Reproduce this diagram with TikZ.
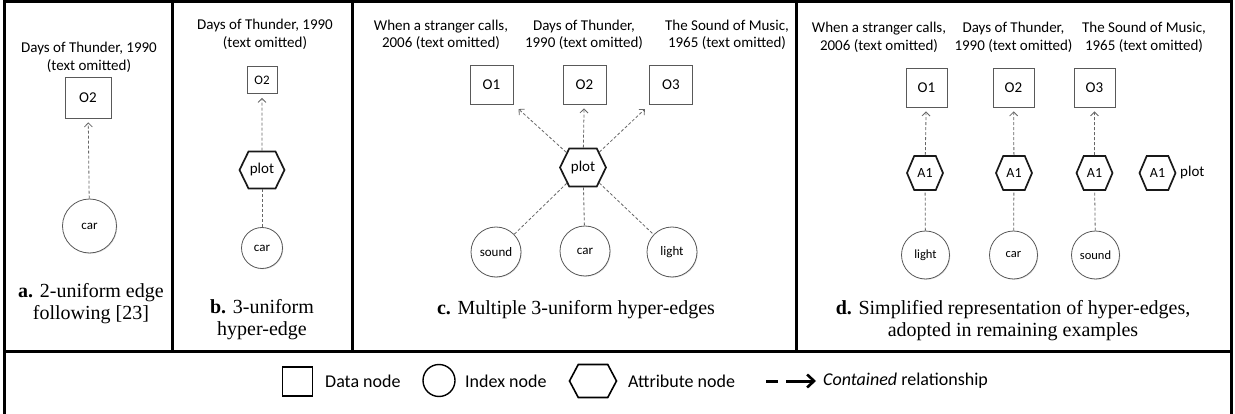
\documentclass[tikz,border=0pt]{standalone}
\usepackage{fontspec}
\setmainfont{Liberation Serif}
\newfontfamily\lbl{Carlito}
\usetikzlibrary{arrows.meta,shapes.symbols,shadows}

\begin{document}
\begin{tikzpicture}[x=1pt,y=-1pt,
  frame/.style={line width=3pt,black},
  softshadow/.style={drop shadow={opacity=0.25,shadow xshift=0.8pt,shadow yshift=-0.8pt}},
  datanode/.style={draw=black!65,line width=0.8pt,fill=white,inner sep=0pt,
    minimum width=43pt,minimum height=39pt,font=\lbl\fontsize{15}{17}\selectfont,softshadow},
  indexnode/.style={circle,draw=black!65,line width=0.8pt,fill=white,inner sep=0pt,
    minimum size=50pt,font=\lbl\fontsize{13}{15}\selectfont,softshadow},
  attrnode/.style={signal,signal to=east and west,signal pointer angle=128,
    draw=black!90,line width=1.7pt,fill=white,inner sep=0pt,
    minimum width=46pt,minimum height=38pt,font=\lbl\fontsize{15}{17}\selectfont},
  smallattr/.style={attrnode,minimum width=36pt,minimum height=34pt,
    signal pointer angle=134,font=\lbl\fontsize{14}{16}\selectfont},
  title/.style={align=center,font=\lbl\fontsize{15}{17.5}\selectfont,inner sep=0pt},
  caption/.style={align=center,font=\fontsize{20}{22}\selectfont,inner sep=0pt},
  rel/.style={draw=black!60,line width=0.8pt,dash pattern=on 3pt off 2pt,
    -{Straight Barb[length=4pt,width=8pt,line width=0.8pt]},shorten >=4pt},
  link/.style={draw=black!60,line width=0.8pt,dash pattern=on 3pt off 2pt},
  legtext/.style={anchor=west,font=\lbl\fontsize{18}{20}\selectfont,inner sep=0pt},
  plotlabel/.style={anchor=west,font=\lbl\fontsize{15}{17}\selectfont,inner sep=0pt}
]
\useasboundingbox (0,0) rectangle (1235,414);

% panel frames
\draw[frame] (4.5,414) -- (4.5,2) -- (1231,2) -- (1231,414);
\draw[frame] (4.5,351) -- (1231,351);
\foreach \xd in {172,352,796} \draw[frame] (\xd,2) -- (\xd,351);

% ---------- a. 2-uniform edge ----------
\node[title] (aT) at (89,57.5) {Days of Thunder, 1990\\(text omitted)};
\node[datanode,minimum width=46pt,minimum height=41pt] (aO2) at (88,97.5) {O2};
\node[indexnode,minimum size=54pt] (aCar) at (89.5,226) {car};
\draw[rel] (aCar) -- (aO2);
\node[caption] (aC) at (91,304) {\textbf{a.} 2-uniform edge\\following [23]};

% ---------- b. 3-uniform hyper-edge ----------
\node[title] (bT) at (265,34.5) {Days of Thunder, 1990\\(text omitted)};
\node[datanode,minimum width=30pt,minimum height=27pt,font=\lbl\fontsize{13}{15}\selectfont] (bO2) at (262,80) {O2};
\node[attrnode,minimum width=45pt,minimum height=37pt] (bPlot) at (262,170) {plot};
\node[indexnode,minimum size=41pt] (bCar) at (262,248) {car};
\draw[rel] (bPlot) -- (bO2);
\draw[link] (bCar) -- (bPlot);
\node[caption] (bC) at (262,320) {\textbf{b.} 3-uniform\\hyper-edge};

% ---------- c. Multiple 3-uniform hyper-edges ----------
\node[title] (cT1) at (441,35) {When a stranger calls,\\2006 (text omitted)};
\node[title] (cT2) at (584,35) {Days of Thunder,\\1990 (text omitted)};
\node[title] (cT3) at (727,35) {The Sound of Music,\\1965 (text omitted)};
\node[datanode] (cO1) at (491.5,84.5) {O1};
\node[datanode] (cO2) at (584.5,84.5) {O2};
\node[datanode] (cO3) at (671,84.5) {O3};
\node[attrnode] (cPlot) at (583,167.5) {plot};
\node[indexnode] (cSound) at (496,252) {sound};
\node[indexnode] (cCar) at (585,251) {car};
\node[indexnode] (cLight) at (672,252) {light};
\draw[rel,shorten >=7pt] (cPlot) -- (cO1);
\draw[rel] (cPlot) -- (cO2);
\draw[rel,shorten >=7pt] (cPlot) -- (cO3);
\draw[link] (cPlot) -- (cSound);
\draw[link] (cPlot) -- (cCar);
\draw[link] (cPlot) -- (cLight);
\node[caption] (cC) at (576,310) {\textbf{c.} Multiple 3-uniform hyper-edges};

% ---------- d. Simplified representation ----------
\node[title] (dT1) at (879,37.5) {When a stranger calls,\\2006 (text omitted)};
\node[title] (dT2) at (1013.5,37.5) {Days of Thunder,\\1990 (text omitted)};
\node[title] (dT3) at (1144,37.5) {The Sound of Music,\\1965 (text omitted)};
\node[datanode,minimum width=41pt] (dO1) at (926.5,87.5) {O1};
\node[datanode,minimum width=41pt] (dO2) at (1013.5,87.5) {O2};
\node[datanode,minimum width=41pt] (dO3) at (1094.5,87.5) {O3};
\node[smallattr] (dA1) at (925,173) {A1};
\node[smallattr] (dA2) at (1014,173) {A1};
\node[smallattr] (dA3) at (1094.5,173) {A1};
\node[smallattr] (dA4) at (1157.5,173) {A1};
\node[plotlabel] (dPlot) at (1180,173) {plot};
\node[indexnode,minimum size=48pt,font=\lbl\fontsize{12.5}{14}\selectfont] (dLight) at (925.5,255) {light};
\node[indexnode,minimum size=48pt,font=\lbl\fontsize{12.5}{14}\selectfont] (dCar) at (1013.5,255) {car};
\node[indexnode,minimum size=48pt,font=\lbl\fontsize{12.5}{14}\selectfont] (dSound) at (1095.5,255) {sound};
\draw[rel] (dA1) -- (dO1);
\draw[rel] (dA2) -- (dO2);
\draw[rel] (dA3) -- (dO3);
\draw[link] (dLight) -- (dA1);
\draw[link] (dCar) -- (dA2);
\draw[link] (dSound) -- (dA3);
\node[caption] (dC) at (1013,321) {\textbf{d.} Simplified representation of hyper-edges,\\adopted in remaining examples};

% ---------- legend ----------
\node[draw=black,line width=1.7pt,minimum width=30pt,minimum height=29pt,inner sep=0pt] (lgData) at (297.5,381.5) {};
\node[legtext] (lgDataT) at (325,381) {Data node};
\node[circle,draw=black,line width=1.4pt,minimum size=32pt,inner sep=0pt] (lgIdx) at (439,380.5) {};
\node[legtext] (lgIdxT) at (465,381) {Index node};
\node[signal,signal to=east and west,signal pointer angle=124,draw=black,line width=1.6pt,
  minimum width=47pt,minimum height=33pt,inner sep=0pt] (lgAttr) at (593,381) {};
\node[legtext] (lgAttrT) at (628,381) {Attribute node};
\coordinate (lgD0) at (766,381);
\coordinate (lgD1) at (778,381);
\coordinate (lgA0) at (786,381);
\coordinate (lgA1) at (816,381);
\draw[line width=3pt] (lgD0) -- (lgD1);
\draw[line width=3pt,-{Straight Barb[length=7pt,width=13pt,line width=2.6pt]}] (lgA0) -- (lgA1);
\node[legtext] (lgRelT) at (823,381) {\textit{Contained} relationship};
\end{tikzpicture}
\end{document}
